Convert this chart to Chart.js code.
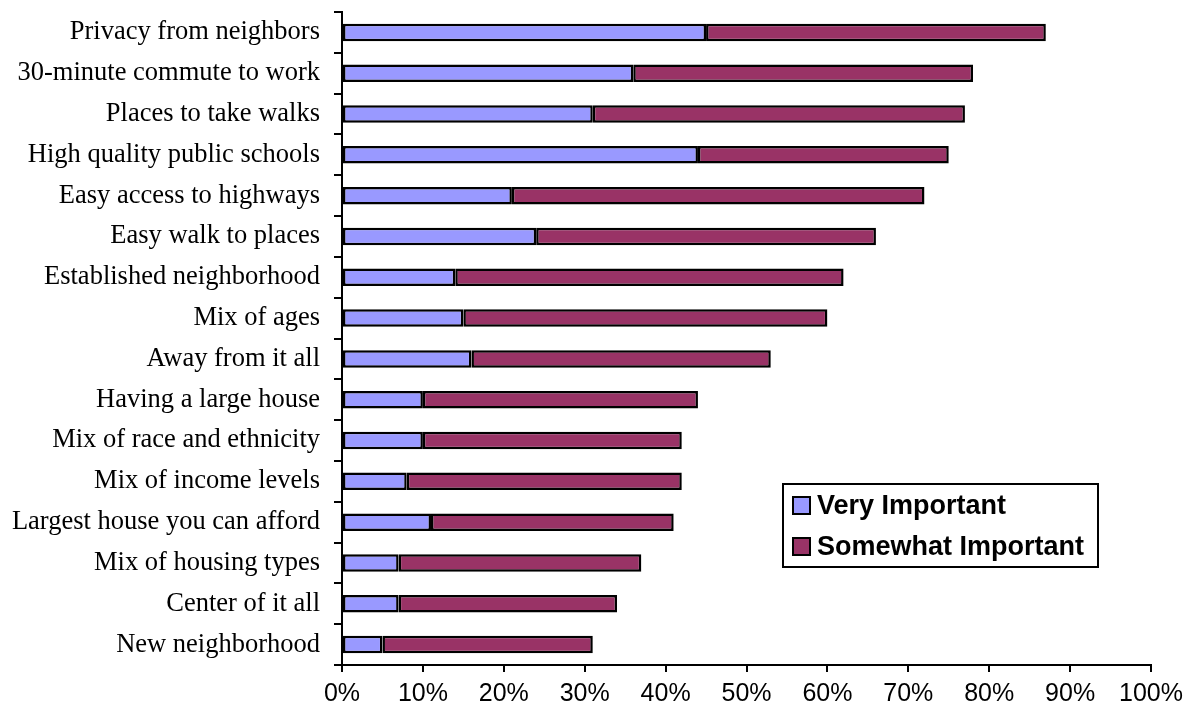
<!DOCTYPE html>
<html>
<head>
<meta charset="utf-8">
<script src="https://cdn.jsdelivr.net/npm/chart.js@4"></script>
<style>
  html, body { margin: 0; padding: 0; background: #fff; }
  #wrap { width: 1196px; height: 710px; }
</style>
</head>
<body>
<div id="wrap"><canvas id="prefChart" width="1196" height="710"></canvas></div>
<script>
const categories = [
    'Privacy from neighbors',
    '30-minute commute to work',
    'Places to take walks',
    'High quality public schools',
    'Easy access to highways',
    'Easy walk to places',
    'Established neighborhood',
    'Mix of ages',
    'Away from it all',
    'Having a large house',
    'Mix of race and ethnicity',
    'Mix of income levels',
    'Largest house you can afford',
    'Mix of housing types',
    'Center of it all',
    'New neighborhood'
];
const veryImportant     = [45, 36, 31, 44, 21, 24, 14, 15, 16, 10, 10, 8, 11, 7, 7, 5];
const somewhatImportant = [42, 42, 46, 31, 51, 42, 48, 45, 37, 34, 32, 34, 30, 30, 27, 26];
const xTicks = [0, 10, 20, 30, 40, 50, 60, 70, 80, 90, 100];

// legend box drawn inside the plot, lower right
const boxLegend = {
    id: 'boxLegend',
    afterDraw(chart) {
        const ctx = chart.ctx;
        const x = 783, y = 484, w = 315, h = 83;
        ctx.save();
        ctx.fillStyle = '#fff';
        ctx.fillRect(x, y, w, h);
        ctx.lineWidth = 2;
        ctx.strokeStyle = '#000';
        ctx.strokeRect(x, y, w, h);
        ctx.font = 'bold 27px "Liberation Sans", Arial, sans-serif';
        ctx.textBaseline = 'middle';
        chart.data.datasets.forEach((ds, i) => {
            const cy = y + 22 + i * 41;
            ctx.fillStyle = ds.backgroundColor;
            ctx.fillRect(x + 10, cy - 9, 17, 17);
            ctx.strokeRect(x + 10, cy - 9, 17, 17);
            ctx.fillStyle = '#000';
            ctx.fillText(ds.label, x + 34, cy + 1);
        });
        ctx.restore();
    }
};

const ctx = document.getElementById('prefChart').getContext('2d');
new Chart(ctx, {
    type: 'bar',
    data: {
        labels: categories,
        datasets: [
            {
                label: 'Very Important',
                data: veryImportant,
                backgroundColor: '#9999FF',
                borderColor: '#000',
                borderWidth: 2.5,
                borderSkipped: false
            },
            {
                label: 'Somewhat Important',
                data: somewhatImportant,
                backgroundColor: '#993366',
                borderColor: '#000',
                borderWidth: 2.5,
                borderSkipped: false
            }
        ]
    },
    options: {
        indexAxis: 'y',
        responsive: false,
        animation: false,
        layout: { padding: { top: 12, right: 45, bottom: 0, left: 0 } },
        plugins: {
            legend: { display: false },
            tooltip: { enabled: false }
        },
        datasets: { bar: { categoryPercentage: 1.0, barPercentage: 0.43 } },
        scales: {
            x: {
                stacked: true,
                min: 0,
                max: 100,
                afterBuildTicks: (scale) => { scale.ticks = xTicks.map(v => ({ value: v })); },
                afterFit: (scale) => { scale.height = 45; },
                ticks: {
                    callback: (v) => v + '%',
                    color: '#000',
                    padding: 7,
                    maxRotation: 0,
                    font: { family: '"Liberation Sans", Arial, sans-serif', size: 25 }
                },
                grid: { drawOnChartArea: false, tickLength: 7, color: '#000', lineWidth: 2 },
                border: { color: '#000', width: 2 }
            },
            y: {
                stacked: true,
                afterFit: (scale) => {
                    scale.width = 342;
                    // labels sit well inside the bands, no extra room needed
                    scale.paddingTop = 0;
                    scale.paddingBottom = 0;
                },
                ticks: {
                    color: '#000',
                    padding: 14,
                    autoSkip: false,
                    font: { family: '"Liberation Serif", "Times New Roman", serif', size: 26.5 }
                },
                grid: { offset: true, drawOnChartArea: false, tickLength: 8, color: '#000', lineWidth: 2 },
                border: { color: '#000', width: 2 }
            }
        }
    },
    plugins: [boxLegend]
});
</script>
</body>
</html>
